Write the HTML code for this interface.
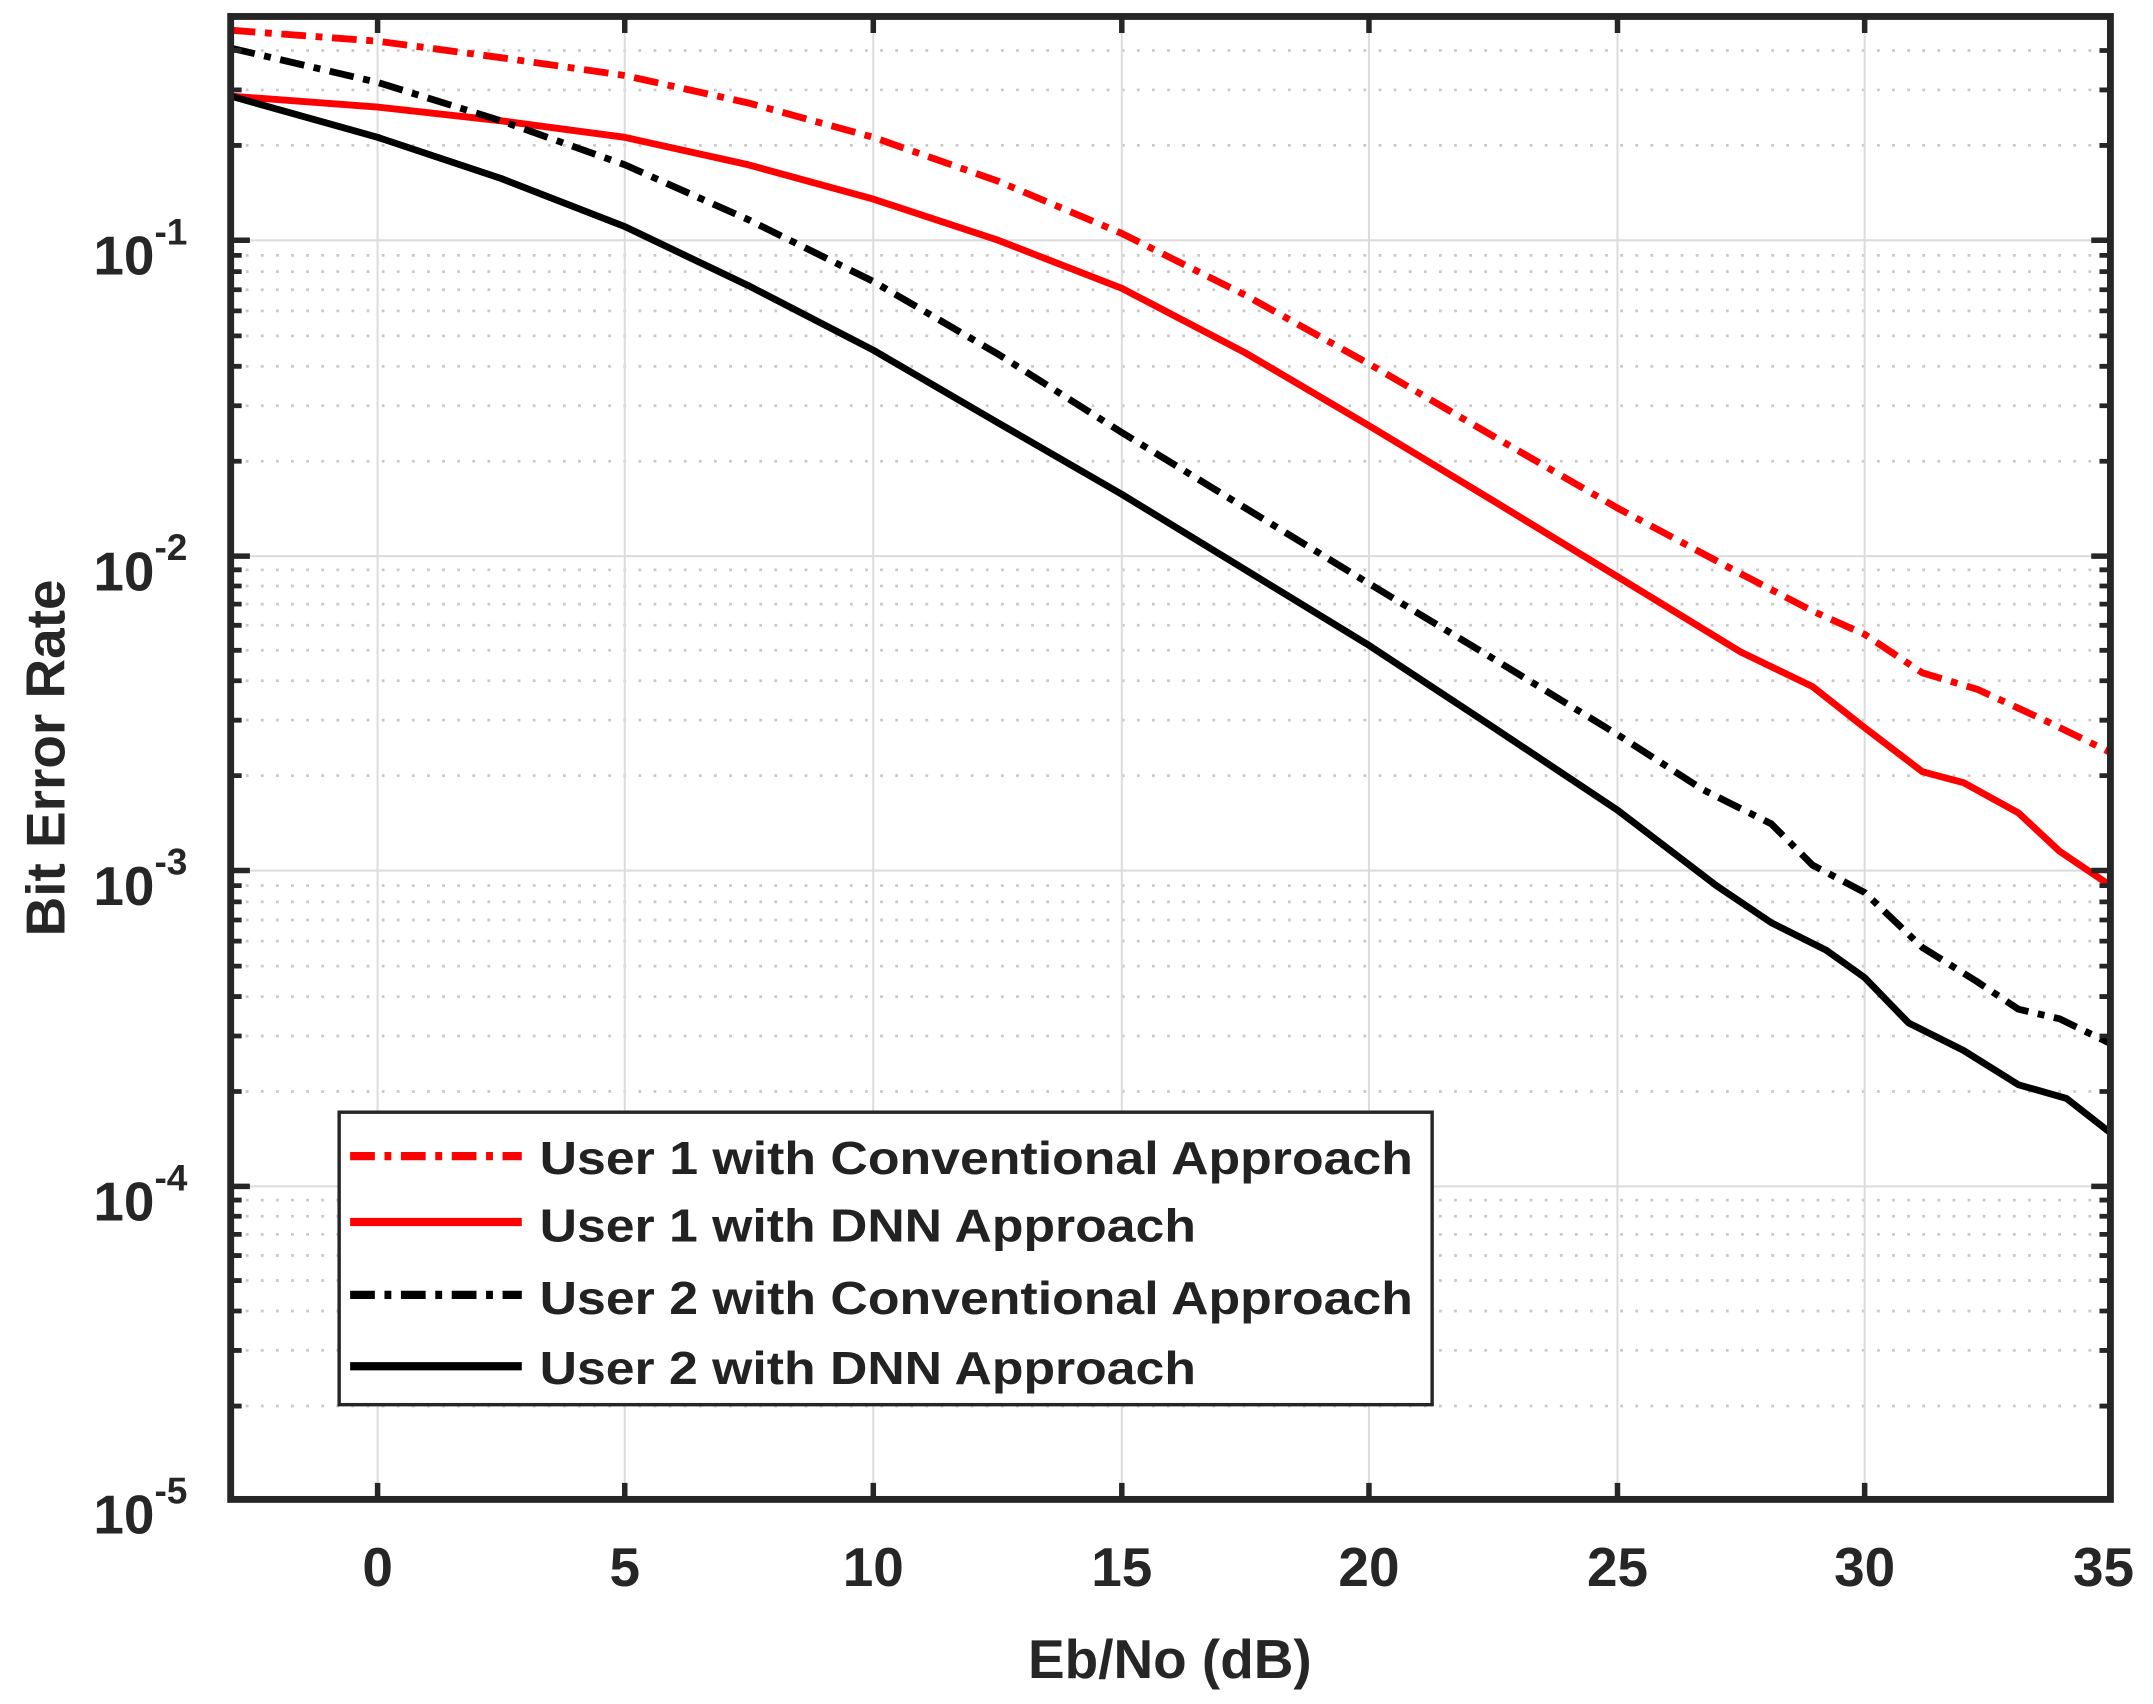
<!DOCTYPE html>
<html><head><meta charset="utf-8"><style>html,body{margin:0;padding:0;background:#fff}svg{display:block}</style></head>
<body>
<svg width="2153" height="1704" viewBox="0 0 1568 1241" preserveAspectRatio="none" xmlns="http://www.w3.org/2000/svg">
<rect width="1568" height="1241" fill="#fff"/>
<path fill="none" stroke="#c8c8c8" stroke-width="2" stroke-dasharray="2 9" d="
M168 1024H1537M168 983.5H1537M168 954.8H1537M168 932.6H1537M168 914.4H1537M168 899H1537M168 885.8H1537M168 874H1537
M168 794.9H1537M168 754.5H1537M168 725.8H1537M168 703.6H1537M168 685.4H1537M168 670H1537M168 656.8H1537M168 645H1537
M168 564.9H1537M168 524.5H1537M168 495.8H1537M168 473.6H1537M168 455.4H1537M168 440H1537M168 426.8H1537M168 415H1537
M168 335.9H1537M168 295.5H1537M168 266.8H1537M168 244.6H1537M168 226.4H1537M168 211H1537M168 197.8H1537M168 186H1537
M168 105.9H1537M168 65.5H1537M168 36.8H1537"/>
<path fill="none" stroke="#dcdcdc" stroke-width="1.5" d="M168 175H1537M168 405H1537M168 634H1537M168 864H1537
M275 12V1092M455 12V1092M636 12V1092M817 12V1092M997 12V1092M1178 12V1092M1358 12V1092"/>
<g fill="none" stroke-width="5" stroke-linejoin="round" stroke-linecap="butt">
<polyline stroke="#ff0000" stroke-dasharray="18 7 5 7" points="168,22 275,30 365,42 455,55 545,75 636,100 727,132 817,170 907,215 997,265 1088,318 1178,370 1268,418 1320,445 1358,462 1400,490 1440,502 1490,525 1537,548"/>
<polyline stroke="#ff0000" points="168,70 275,78 365,88 455,100 545,120 636,145 727,175 817,210 907,257 997,310 1088,365 1178,420 1268,475 1320,500 1358,530 1400,562 1430,570 1470,592 1500,620 1537,645"/>
<polyline stroke="#000" stroke-dasharray="18 7 5 7" points="168,35 275,60 365,88 455,120 545,160 636,205 727,258 817,315 907,370 997,425 1088,480 1178,535 1240,575 1290,600 1320,630 1358,650 1400,690 1440,715 1470,735 1500,742 1537,760"/>
<polyline stroke="#000" points="168,70 275,100 365,130 455,165 545,208 636,255 727,308 817,360 907,415 997,470 1088,530 1178,590 1250,645 1290,672 1330,692 1358,712 1390,745 1430,765 1470,790 1505,800 1537,825"/>
</g>
<path fill="none" stroke="#262626" stroke-width="4" d="
M275 1092v-12M455 1092v-12M636 1092v-12M817 1092v-12M997 1092v-12M1178 1092v-12M1358 1092v-12
M275 12v12M455 12v12M636 12v12M817 12v12M997 12v12M1178 12v12M1358 12v12
M168 175h14M168 405h14M168 634h14M168 864h14M1537 175h-14M1537 405h-14M1537 634h-14M1537 864h-14"/>
<path fill="none" stroke="#262626" stroke-width="3.5" d="
M168 1024h8M168 983.5h8M168 954.8h8M168 932.6h8M168 914.4h8M168 899h8M168 885.8h8M168 874h8
M168 794.9h8M168 754.5h8M168 725.8h8M168 703.6h8M168 685.4h8M168 670h8M168 656.8h8M168 645h8
M168 564.9h8M168 524.5h8M168 495.8h8M168 473.6h8M168 455.4h8M168 440h8M168 426.8h8M168 415h8
M168 335.9h8M168 295.5h8M168 266.8h8M168 244.6h8M168 226.4h8M168 211h8M168 197.8h8M168 186h8
M168 105.9h8M168 65.5h8M168 36.8h8
M1537 1024h-8M1537 983.5h-8M1537 954.8h-8M1537 932.6h-8M1537 914.4h-8M1537 899h-8M1537 885.8h-8M1537 874h-8
M1537 794.9h-8M1537 754.5h-8M1537 725.8h-8M1537 703.6h-8M1537 685.4h-8M1537 670h-8M1537 656.8h-8M1537 645h-8
M1537 564.9h-8M1537 524.5h-8M1537 495.8h-8M1537 473.6h-8M1537 455.4h-8M1537 440h-8M1537 426.8h-8M1537 415h-8
M1537 335.9h-8M1537 295.5h-8M1537 266.8h-8M1537 244.6h-8M1537 226.4h-8M1537 211h-8M1537 197.8h-8M1537 186h-8
M1537 105.9h-8M1537 65.5h-8M1537 36.8h-8"/>
<rect x="168" y="12" width="1369" height="1080" fill="none" stroke="#262626" stroke-width="5"/>
<rect x="247" y="810" width="796" height="213" fill="#fff" stroke="#262626" stroke-width="2.5"/>
<g fill="none" stroke-width="6">
<line x1="255" y1="842" x2="380" y2="842" stroke="#ff0000" stroke-dasharray="18 7 5 7"/>
<line x1="255" y1="890" x2="380" y2="890" stroke="#ff0000"/>
<line x1="255" y1="943" x2="380" y2="943" stroke="#000" stroke-dasharray="18 7 5 7"/>
<line x1="255" y1="995" x2="380" y2="995" stroke="#000"/>
</g>
<g font-family="'Liberation Sans', sans-serif" font-weight="bold" font-size="34" fill="#222">
<text x="393" y="855" textLength="636" lengthAdjust="spacingAndGlyphs">User 1 with Conventional Approach</text>
<text x="393" y="904" textLength="478" lengthAdjust="spacingAndGlyphs">User 1 with DNN Approach</text>
<text x="393" y="957" textLength="636" lengthAdjust="spacingAndGlyphs">User 2 with Conventional Approach</text>
<text x="393" y="1008" textLength="478" lengthAdjust="spacingAndGlyphs">User 2 with DNN Approach</text>
</g>
<g font-family="'Liberation Sans', sans-serif" font-weight="bold" fill="#262626" font-size="40">
<text x="275" y="1155" text-anchor="middle">0</text>
<text x="455" y="1155" text-anchor="middle">5</text>
<text x="636" y="1155" text-anchor="middle">10</text>
<text x="817" y="1155" text-anchor="middle">15</text>
<text x="997" y="1155" text-anchor="middle">20</text>
<text x="1178" y="1155" text-anchor="middle">25</text>
<text x="1358" y="1155" text-anchor="middle">30</text>
<text x="1532" y="1155" text-anchor="middle">35</text>
</g>
<g font-family="'Liberation Sans', sans-serif" font-weight="bold" fill="#262626" font-size="40">
<text x="68" y="200">10<tspan font-size="27" dy="-22">-1</tspan></text>
<text x="68" y="430">10<tspan font-size="27" dy="-22">-2</tspan></text>
<text x="68" y="659">10<tspan font-size="27" dy="-22">-3</tspan></text>
<text x="68" y="889">10<tspan font-size="27" dy="-22">-4</tspan></text>
<text x="68" y="1117">10<tspan font-size="27" dy="-22">-5</tspan></text>
</g>
<text x="852" y="1222" text-anchor="middle" font-family="'Liberation Sans', sans-serif" font-weight="bold" font-size="40" fill="#262626">Eb/No (dB)</text>
<text transform="translate(47,552) rotate(-90)" text-anchor="middle" font-family="'Liberation Sans', sans-serif" font-weight="bold" font-size="40" fill="#262626">Bit Error Rate</text>
</svg>
</body></html>
